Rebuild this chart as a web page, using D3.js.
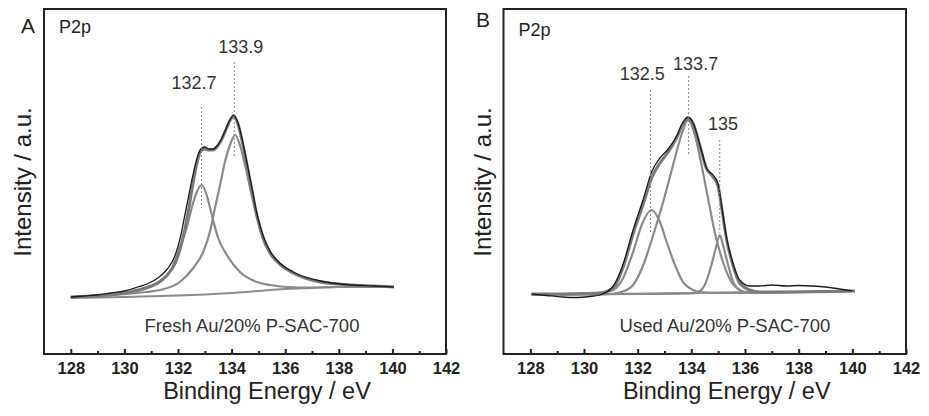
<!DOCTYPE html>
<html>
<head>
<meta charset="utf-8">
<script src="https://cdnjs.cloudflare.com/ajax/libs/d3/7.8.5/d3.min.js"></script>
<style>
  body { margin: 0; background: #fff; }
  svg { display: block; font-family: "Liberation Sans", Arial, sans-serif; }
</style>
</head>
<body>
<div id="chart"></div>
<script>
// x axis ticks (binding energy, eV)
const majorTicks = [128, 130, 132, 134, 136, 138, 140, 142];
const minorTicks = [129, 131, 133, 135, 137, 139, 141];

// Panel A: fresh catalyst, [energy, intensity a.u.]
const freshRaw = [[128.0,57],[128.5,58],[129.0,59],[129.5,61],[130.0,63],[130.5,67],[131.0,72],[131.3,77],[131.6,85],[131.9,99],[132.1,118],[132.25,138],[132.4,158],[132.55,178],[132.7,195],[132.85,205],[133.0,207],[133.15,205],[133.3,205],[133.45,208],[133.6,214],[133.8,226],[133.95,235],[134.08,239],[134.25,230],[134.4,214],[134.56,193],[134.75,167],[134.94,141],[135.18,118],[135.43,103],[135.8,91],[136.3,82],[137.3,73],[138.5,69],[139.3,68],[140.06,67]];
const freshFit = [[128.0,57],[129.0,58.5],[130.0,61],[130.5,64],[131.0,68],[131.3,72],[131.6,79],[131.9,91],[132.1,107],[132.25,124],[132.4,145],[132.55,169],[132.7,190],[132.85,203],[133.0,205],[133.15,204],[133.3,204],[133.45,207],[133.6,213],[133.8,225],[133.95,234],[134.08,237],[134.25,229],[134.4,212],[134.56,191],[134.75,165],[134.94,139],[135.18,116],[135.43,102],[135.8,90],[136.3,81],[137.3,72],[138.5,69],[139.3,68],[140.06,67]];
const freshPeak1 = [[128.0,57],[128.84,58],[130.09,61],[130.5,63],[130.96,67],[131.33,72],[131.77,86],[132.07,106],[132.32,126],[132.51,146],[132.7,162],[132.88,169],[133.07,159],[133.26,139],[133.5,116],[133.82,99],[134.31,82],[134.94,72],[135.43,69],[136.06,67],[137.0,66.5],[138.0,67],[140.06,67]];
const freshPeak2 = [[128.0,57],[129.0,58],[130.09,60],[130.8,62],[131.33,64],[132.07,72],[132.57,86],[132.94,102],[133.19,122],[133.38,146],[133.57,169],[133.75,192],[133.94,209],[134.13,219],[134.31,209],[134.5,189],[134.69,166],[134.94,137],[135.18,114],[135.43,100],[135.81,89],[136.55,78],[137.3,73],[138.42,69],[140.06,67]];
const freshBg = [[128.0,56],[130.0,57],[132.0,58.5],[133.0,59.5],[134.0,61],[135.0,63],[136.0,65],[137.0,66],[138.0,67],[140.06,67]];

// Panel B: used catalyst
const usedRaw = [[128.05,60],[128.6,58.5],[129.2,57],[129.7,56.5],[130.2,57.5],[130.59,59],[131.09,68],[131.46,90],[131.83,124],[132.21,155],[132.52,182],[132.83,196],[133.14,205],[133.45,218],[133.69,232],[133.88,237],[134.07,231],[134.32,209],[134.57,186],[134.81,179],[135.0,170],[135.12,150],[135.31,117],[135.56,90],[135.8,74],[136.18,68],[136.55,68],[137.0,69],[137.55,68],[138.0,68.5],[138.53,68],[139.0,67],[139.28,66],[140.01,63]];
const usedFit = [[128.05,60],[129.0,60],[130.0,60.5],[130.59,61],[131.09,66],[131.46,87],[131.83,120],[132.21,150],[132.52,176],[132.83,191],[133.14,202],[133.45,216],[133.69,230],[133.88,235],[134.07,230],[134.32,208],[134.57,185],[134.81,177],[135.0,167],[135.12,148],[135.31,115],[135.56,88],[135.8,71],[136.18,64],[136.55,62],[137.5,62],[140.1,63]];
const usedPeak1 = [[128.05,59.5],[130.0,60],[130.6,61],[131.09,64],[131.46,76],[131.83,102],[132.15,129],[132.52,144],[132.83,132],[133.08,112],[133.39,89],[133.69,72],[134.07,64],[134.32,62],[135.0,61],[140.1,63]];
const usedPeak2 = [[128.05,59.5],[130.0,59.5],[131.0,60],[131.4,62],[131.83,69],[132.21,89],[132.58,119],[132.95,152],[133.32,189],[133.63,219],[133.88,234],[134.13,219],[134.38,189],[134.62,156],[134.87,122],[135.18,92],[135.49,72],[135.8,64],[136.18,61],[137.0,61.5],[140.1,63]];
const usedPeak3 = [[128.05,59.5],[132.0,60],[134.0,60.5],[134.25,62],[134.5,69],[134.75,89],[134.94,109],[135.06,119],[135.18,109],[135.37,89],[135.56,72],[135.8,64],[136.05,62],[137.0,62],[140.1,63]];
const usedBg = [[128.05,59.5],[131.0,60],[134.0,61],[137.0,62],[140.1,63]];

// peak markers: label text, dashed line position, line extent, label anchor
const freshLabels = ["132.7", "133.9"];
const freshLineE = [132.88, 134.1];
const freshLineI = [[146, 247], [197, 292]];
const freshLabelPos = [[132.6, 264.7], [134.34, 300.7]];

const usedLabels = ["132.5", "133.7", "135"];
const usedLineE = [132.48, 133.9, 135.06];
const usedLineI = [[122, 264], [199, 278], [121, 214]];
const usedLabelPos = [[132.17, 274], [134.16, 284], [135.18, 224]];

const panels = [
  {letter: "A", left: 44, right: 446, letterX: 21, letterY: 33, p2pY: 33,
   sample: "Fresh Au/20% P-SAC-700", sampleX: 252,
   raw: freshRaw, fit: freshFit, peaks: [freshPeak1, freshPeak2], bg: freshBg,
   labels: freshLabels, lineE: freshLineE, lineI: freshLineI, labelPos: freshLabelPos},
  {letter: "B", left: 503.5, right: 906, letterX: 476, letterY: 27, p2pY: 36,
   sample: "Used Au/20% P-SAC-700", sampleX: 725,
   raw: usedRaw, fit: usedFit, peaks: [usedPeak1, usedPeak2, usedPeak3], bg: usedBg,
   labels: usedLabels, lineE: usedLineE, lineI: usedLineI, labelPos: usedLabelPos}
];

const plotTop = 9, plotBottom = 354;
const textColor = "#222";
const grey = "#8a8a8a";

const svg = d3.select("#chart").append("svg")
    .attr("width", 929)
    .attr("height", 416);

function drawPanel(p) {
    const x = d3.scaleLinear().domain([127, 142]).range([p.left, p.right]);
    const y = d3.scaleLinear().domain([0, 345]).range([plotBottom, plotTop]);
    const g = svg.append("g");

    const line = d3.line()
        .x(d => x(d[0]))
        .y(d => y(d[1]))
        .curve(d3.curveMonotoneX);

    // background
    g.append("path").datum(p.bg)
        .attr("fill", "none").attr("stroke", grey).attr("stroke-width", 2)
        .attr("d", line);

    // fitted components
    p.peaks.forEach(pk => {
        g.append("path").datum(pk)
            .attr("fill", "none").attr("stroke", grey).attr("stroke-width", 2.2)
            .attr("d", line);
    });

    // fitted sum
    g.append("path").datum(p.fit)
        .attr("fill", "none").attr("stroke", "#7a7a7a").attr("stroke-width", 3)
        .attr("d", line);

    // raw spectrum
    g.append("path").datum(p.raw)
        .attr("fill", "none").attr("stroke", "#1c1c1c").attr("stroke-width", 1.3)
        .attr("d", line);

    // dashed peak markers
    p.lineE.forEach((e, i) => {
        g.append("line")
            .attr("x1", x(e)).attr("x2", x(e))
            .attr("y1", y(p.lineI[i][1])).attr("y2", y(p.lineI[i][0]))
            .attr("stroke", "#888").attr("stroke-width", 1)
            .attr("stroke-dasharray", "2,2");
        g.append("text")
            .attr("x", x(p.labelPos[i][0]))
            .attr("y", y(p.labelPos[i][1]))
            .attr("text-anchor", "middle")
            .style("font-size", "18px")
            .style("fill", "#333")
            .text(p.labels[i]);
    });

    // frame
    g.append("rect")
        .attr("x", p.left).attr("y", plotTop)
        .attr("width", p.right - p.left).attr("height", plotBottom - plotTop)
        .attr("fill", "none").attr("stroke", textColor).attr("stroke-width", 2);

    // x axis, ticks pointing inward
    const axis = g.append("g")
        .attr("transform", `translate(0,${plotBottom})`)
        .call(d3.axisBottom(x).tickValues(majorTicks).tickSize(-5).tickPadding(8)
            .tickFormat(d3.format("d")));
    axis.select(".domain").remove();
    axis.selectAll("line").attr("stroke", textColor).attr("stroke-width", 2);
    axis.selectAll("text")
        .style("font-size", "16.5px")
        .style("font-weight", "bold")
        .style("fill", textColor)
        .style("font-family", "\"Liberation Sans\", Arial, sans-serif");

    const minor = g.append("g")
        .attr("transform", `translate(0,${plotBottom})`)
        .call(d3.axisBottom(x).tickValues(minorTicks).tickSize(-3).tickFormat(""));
    minor.select(".domain").remove();
    minor.selectAll("line").attr("stroke", textColor).attr("stroke-width", 2);

    // axis titles
    const midX = (p.left + p.right) / 2 + 22;
    g.append("text")
        .attr("x", midX).attr("y", 399)
        .attr("text-anchor", "middle")
        .style("font-size", "23.5px")
        .style("fill", textColor)
        .text("Binding Energy / eV");

    g.append("text")
        .attr("transform", `translate(${p.left - 13},182) rotate(-90)`)
        .attr("text-anchor", "middle")
        .style("font-size", "24px")
        .style("fill", textColor)
        .text("Intensity / a.u.");

    // panel letter, element, sample name
    g.append("text")
        .attr("x", p.letterX).attr("y", p.letterY)
        .style("font-size", "21px")
        .style("fill", textColor)
        .text(p.letter);

    g.append("text")
        .attr("x", p.left + 15).attr("y", p.p2pY)
        .style("font-size", "18px")
        .style("fill", textColor)
        .text("P2p");

    g.append("text")
        .attr("x", p.sampleX).attr("y", 332)
        .attr("text-anchor", "middle")
        .style("font-size", "18.5px")
        .style("fill", "#333")
        .text(p.sample);
}

panels.forEach(drawPanel);
</script>
</body>
</html>
